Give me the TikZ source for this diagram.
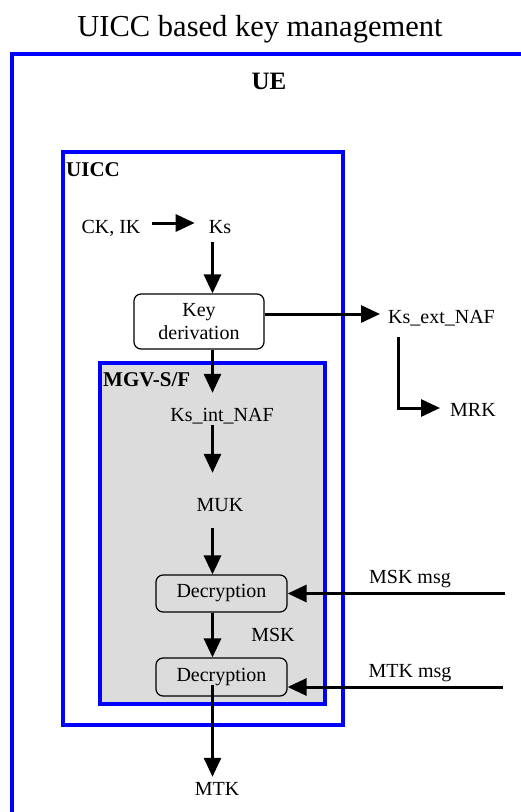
\documentclass[tikz,border=0pt]{standalone}
\usepackage{fontspec}
\setmainfont{Liberation Serif}
\usetikzlibrary{arrows.meta}
\definecolor{mgvgray}{RGB}{220,220,220}
\begin{document}
\begin{tikzpicture}[x=1pt,y=-1pt,
  frame/.style={draw=blue,line width=3.5pt},
  lbl/.style={inner sep=0pt,text height=14pt,text depth=4pt,font=\fontsize{20}{23}\selectfont,anchor=base},
  blbl/.style={inner sep=0pt,font=\bfseries\fontsize{21}{25}\selectfont,anchor=base west},
  keybox/.style={draw,rounded corners=7pt,line width=1.2pt,inner sep=0pt,align=center,font=\fontsize{20}{23}\selectfont},
  arr/.style={line width=3pt,-{Triangle[length=19pt,width=17pt]}}
]
\useasboundingbox (0,0) rectangle (520,812);
% title and frames
\node[inner sep=0pt,anchor=base,font=\fontsize{30.5}{36}\selectfont] (title) at (260,36) {UICC based key management};
\draw[frame] (12,815) -- (12,54) -- (525,54);
\node[inner sep=0pt,anchor=base,font=\bfseries\fontsize{25}{30}\selectfont] (ue) at (269,89) {UE};
\draw[frame] (63,152) rectangle (343,725);
\draw[frame,fill=mgvgray] (100,363) rectangle (325,704);
\node[blbl] (uicc) at (66,176) {UICC};
\node[blbl] (mgv) at (103,386) {MGV-S/F};
% nodes
\node[lbl] (ck) at (111,233) {CK, IK};
\node[lbl] (ks) at (220,233) {Ks};
\node[keybox,fill=white,minimum width=130pt,minimum height=55pt] (kd) at (199,321.5) {Key\\derivation};
\node[lbl] (ksint) at (222,421) {Ks\_int\_NAF};
\node[lbl] (muk) at (220,511) {MUK};
\node[keybox,fill=mgvgray,minimum width=131pt,minimum height=37pt] (dec1) at (221.5,593.5) {Decryption};
\node[lbl] (msk) at (273,641) {MSK};
\node[keybox,fill=mgvgray,minimum width=131pt,minimum height=38pt] (dec2) at (221.5,677) {Decryption};
\node[lbl] (mtk) at (217,795) {MTK};
\node[lbl,anchor=base west] (ksext) at (388,323) {Ks\_ext\_NAF};
\node[lbl,anchor=base west] (mrk) at (450,416) {MRK};
\node[lbl] (mskmsg) at (410,583) {MSK msg};
\node[lbl] (mtkmsg) at (410,677) {MTK msg};
% connectors
\coordinate (col) at (212.5,0);
\draw[arr,shorten <=11pt,shorten >=14pt] ([yshift=5pt]ck.east) -- ([yshift=5pt]ks.west);
\draw[arr,shorten <=5pt] (ks.south -| col) -- (kd.north -| col);
\coordinate (kdo) at ([yshift=7.5pt]kd.east);
\draw[arr,shorten >=8pt] (kdo) -- (kdo -| ksext.west);
\draw[arr,shorten <=10pt,shorten >=10pt] ([xshift=10pt]ksext.south west) |- ([yshift=3pt]mrk.west);
\draw[arr,shorten >=14pt] (kd.south -| col) -- (ksint.north -| col);
\draw[arr,shorten >=24pt] (ksint.south -| col) -- (muk.north -| col);
\draw[arr,shorten <=13pt] (muk.south -| col) -- (dec1.north -| col);
\draw[arr] (dec1.south -| col) -- (dec2.north -| col);
\coordinate (d2o) at ([yshift=-8pt]dec2.center);
\draw[arr,shorten >=4pt] (d2o -| col) -- (mtk.north -| col);
\coordinate (min1) at (505,0);
\draw[arr] (dec1.east -| min1) -- (dec1.east);
\coordinate (min2) at (503,687);
\draw[arr] (min2) -- (min2 -| dec2.east);
\end{tikzpicture}
\end{document}
